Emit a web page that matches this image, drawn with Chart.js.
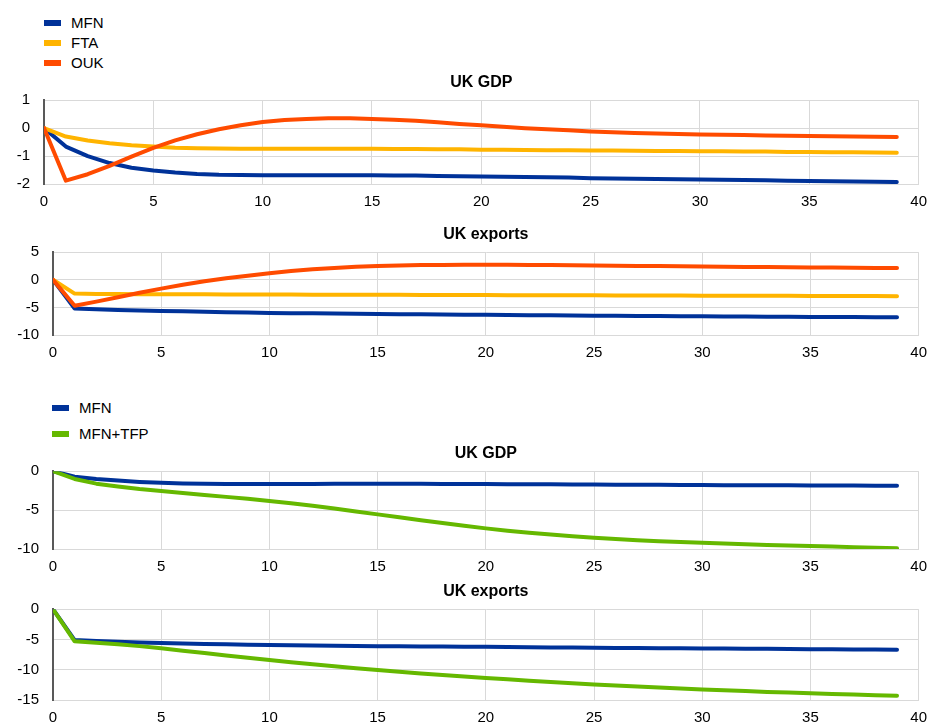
<!DOCTYPE html>
<html>
<head>
<meta charset="utf-8">
<script src="https://cdn.jsdelivr.net/npm/chart.js@4"></script>
<style>
  body { margin: 0; background: #fff; width: 936px; height: 724px; position: relative; overflow: hidden;
         font-family: "Liberation Sans", Arial, sans-serif; }
  canvas { position: absolute; left: 0; }
  .legend-item { position: absolute; white-space: nowrap; font-size: 15px; color: #000; }
  .legend-box { position: absolute; width: 17px; height: 6px; }
  .legend-label { position: absolute; line-height: 18px; }
</style>
</head>
<body>
<div id="legendTop"></div>
<canvas id="gdpTop" width="936" height="135" style="top:73px"></canvas>
<canvas id="expTop" width="936" height="134" style="top:225px"></canvas>
<div id="legendBottom"></div>
<canvas id="gdpBottom" width="936" height="129" style="top:444px"></canvas>
<canvas id="expBottom" width="936" height="142" style="top:582px"></canvas>
<script>
// quarters after the shock
const periods = [0, 1, 2, 3, 4, 5, 6, 7, 8, 9, 10, 11, 12, 13, 14, 15, 16, 17, 18, 19,
  20, 21, 22, 23, 24, 25, 26, 27, 28, 29, 30, 31, 32, 33, 34, 35, 36, 37, 38, 39];
const xTicks = [0, 5, 10, 15, 20, 25, 30, 35, 40];

// upper block: UK GDP
const gdpMfn = [0, -0.66, -1.0, -1.25, -1.42, -1.52, -1.59, -1.64, -1.67, -1.68,
  -1.69, -1.69, -1.69, -1.69, -1.69, -1.69, -1.7, -1.7, -1.71, -1.72,
  -1.73, -1.74, -1.75, -1.76, -1.77, -1.79, -1.8, -1.81, -1.82, -1.83,
  -1.84, -1.85, -1.86, -1.87, -1.88, -1.89, -1.9, -1.91, -1.92, -1.93];
const gdpFta = [0, -0.3, -0.44, -0.54, -0.61, -0.66, -0.7, -0.72, -0.73, -0.74,
  -0.74, -0.74, -0.74, -0.74, -0.74, -0.74, -0.75, -0.75, -0.76, -0.76,
  -0.77, -0.77, -0.78, -0.79, -0.79, -0.8, -0.8, -0.81, -0.82, -0.82,
  -0.83, -0.83, -0.84, -0.84, -0.85, -0.85, -0.86, -0.86, -0.87, -0.88];
const gdpOuk = [0, -1.88, -1.65, -1.35, -1.02, -0.71, -0.44, -0.22, -0.04, 0.1,
  0.22, 0.29, 0.33, 0.35, 0.35, 0.33, 0.3, 0.26, 0.21, 0.15,
  0.1, 0.05, 0.0, -0.04, -0.08, -0.12, -0.15, -0.17, -0.19, -0.21,
  -0.23, -0.24, -0.25, -0.26, -0.27, -0.28, -0.29, -0.3, -0.31, -0.32];
const gdpTicks = [-2, -1, 0, 1];

// upper block: UK exports
const expMfn = [0, -5.2, -5.35, -5.45, -5.55, -5.65, -5.72, -5.8, -5.87, -5.93,
  -6.0, -6.04, -6.08, -6.12, -6.16, -6.2, -6.23, -6.26, -6.29, -6.32,
  -6.35, -6.38, -6.41, -6.44, -6.47, -6.5, -6.53, -6.55, -6.58, -6.6,
  -6.62, -6.64, -6.66, -6.68, -6.7, -6.72, -6.74, -6.76, -6.78, -6.8];
const expFta = [0, -2.5, -2.55, -2.58, -2.6, -2.62, -2.63, -2.64, -2.65, -2.66,
  -2.67, -2.68, -2.69, -2.7, -2.71, -2.72, -2.73, -2.74, -2.75, -2.76,
  -2.77, -2.78, -2.79, -2.8, -2.81, -2.82, -2.83, -2.84, -2.85, -2.86,
  -2.87, -2.88, -2.89, -2.9, -2.91, -2.92, -2.93, -2.94, -2.95, -2.96];
const expOuk = [0, -4.7, -3.95, -3.15, -2.35, -1.6, -0.9, -0.28, 0.27, 0.75,
  1.2, 1.58, 1.9, 2.15, 2.35, 2.5, 2.6, 2.66, 2.7, 2.72,
  2.72, 2.71, 2.69, 2.66, 2.63, 2.6, 2.56, 2.52, 2.48, 2.44,
  2.4, 2.37, 2.34, 2.31, 2.28, 2.25, 2.22, 2.19, 2.16, 2.13];
const expTicks = [-10, -5, 0, 5];

// lower block: UK GDP
const gdp2Mfn = [0, -0.7, -1.0, -1.2, -1.38, -1.5, -1.57, -1.62, -1.65, -1.66,
  -1.66, -1.65, -1.63, -1.61, -1.6, -1.6, -1.61, -1.62, -1.63, -1.64,
  -1.66, -1.67, -1.68, -1.69, -1.7, -1.72, -1.73, -1.74, -1.75, -1.76,
  -1.78, -1.79, -1.8, -1.81, -1.82, -1.83, -1.84, -1.85, -1.86, -1.88];
const gdp2Tfp = [0, -1.0, -1.6, -1.98, -2.3, -2.55, -2.8, -3.05, -3.3, -3.55,
  -3.82, -4.12, -4.45, -4.8, -5.17, -5.55, -5.93, -6.3, -6.67, -7.02,
  -7.35, -7.65, -7.91, -8.15, -8.36, -8.55, -8.72, -8.87, -9.0, -9.11,
  -9.21, -9.3, -9.39, -9.47, -9.55, -9.62, -9.69, -9.76, -9.83, -9.9];
const gdp2Ticks = [-10, -5, 0];

// lower block: UK exports
const exp2Mfn = [0, -5.1, -5.25, -5.38, -5.5, -5.6, -5.68, -5.75, -5.81, -5.87,
  -5.92, -5.96, -6.0, -6.04, -6.08, -6.12, -6.14, -6.16, -6.18, -6.2,
  -6.22, -6.25, -6.28, -6.31, -6.34, -6.37, -6.39, -6.42, -6.44, -6.46,
  -6.48, -6.5, -6.53, -6.55, -6.57, -6.6, -6.62, -6.65, -6.67, -6.7];
const exp2Tfp = [0, -5.3, -5.55, -5.8, -6.1, -6.45, -6.85, -7.25, -7.65, -8.02,
  -8.4, -8.75, -9.1, -9.42, -9.75, -10.05, -10.35, -10.62, -10.88, -11.12,
  -11.35, -11.58, -11.8, -12.02, -12.22, -12.42, -12.6, -12.78, -12.95, -13.1,
  -13.25, -13.4, -13.53, -13.66, -13.78, -13.9, -14.0, -14.1, -14.2, -14.3];
const exp2Ticks = [-15, -10, -5, 0];

const colors = { 'MFN': '#003299', 'FTA': '#ffb400', 'OUK': '#ff4b00', 'MFN+TFP': '#65b800' };

Chart.defaults.font.family = '"Liberation Sans", Arial, sans-serif';
Chart.defaults.color = '#000';

function series(label, values, order) {
  return {
    label: label,
    data: values.map((v, i) => ({ x: periods[i], y: v })),
    borderColor: colors[label],
    backgroundColor: colors[label],
    borderWidth: 4,
    pointRadius: 0,
    tension: 0,
    borderCapStyle: 'round',
    borderJoinStyle: 'round',
    order: order
  };
}

function makeChart(id, title, datasets, yTicks, axisWidth) {
  return new Chart(document.getElementById(id), {
    type: 'line',
    data: { datasets: datasets },
    options: {
      responsive: false,
      animation: false,
      layout: { padding: { left: 0, right: 10, top: 0, bottom: 0 } },
      plugins: {
        legend: { display: false },
        tooltip: { enabled: false },
        title: {
          display: true,
          text: title,
          fullSize: false, // centre over the plot area, not the canvas
          font: { size: 16, weight: 'bold' },
          padding: { top: 0, bottom: 8 }
        }
      },
      scales: {
        x: {
          type: 'linear',
          min: xTicks[0],
          max: xTicks[xTicks.length - 1],
          afterBuildTicks: s => { s.ticks = xTicks.map(v => ({ value: v })); },
          afterFit: s => { s.height = 24; },
          grid: { color: '#d9d9d9', drawTicks: false },
          border: { color: '#d9d9d9' },
          ticks: { font: { size: 15 }, padding: 9, maxRotation: 0, callback: v => String(v) }
        },
        y: {
          min: yTicks[0],
          max: yTicks[yTicks.length - 1],
          afterBuildTicks: s => { s.ticks = yTicks.map(v => ({ value: v })); },
          afterFit: s => { s.width = axisWidth; },
          grid: { color: '#d9d9d9', drawTicks: false },
          border: { color: '#595959', width: 2 },
          ticks: { font: { size: 15 }, padding: 14, callback: v => String(v) }
        }
      }
    }
  });
}

function renderLegend(id, datasets, left, firstCenter, step) {
  const holder = document.getElementById(id);
  datasets.forEach((ds, i) => {
    const c = firstCenter + i * step;
    const item = document.createElement('div');
    item.className = 'legend-item';
    item.style.left = left + 'px';
    item.style.top = c + 'px';
    const box = document.createElement('span');
    box.className = 'legend-box';
    box.style.background = ds.borderColor;
    box.style.left = '0px';
    box.style.top = '-3px';
    const label = document.createElement('span');
    label.className = 'legend-label';
    label.textContent = ds.label;
    label.style.left = '27px';
    label.style.top = '-9px';
    item.appendChild(box);
    item.appendChild(label);
    holder.appendChild(item);
  });
}

const topGdp = makeChart('gdpTop', 'UK GDP',
  [series('MFN', gdpMfn, 3), series('FTA', gdpFta, 2), series('OUK', gdpOuk, 1)], gdpTicks, 44);
makeChart('expTop', 'UK exports',
  [series('MFN', expMfn, 3), series('FTA', expFta, 2), series('OUK', expOuk, 1)], expTicks, 53);
const bottomGdp = makeChart('gdpBottom', 'UK GDP',
  [series('MFN', gdp2Mfn, 2), series('MFN+TFP', gdp2Tfp, 1)], gdp2Ticks, 53);
makeChart('expBottom', 'UK exports',
  [series('MFN', exp2Mfn, 2), series('MFN+TFP', exp2Tfp, 1)], exp2Ticks, 53);

renderLegend('legendTop', topGdp.data.datasets, 44, 23, 20);
renderLegend('legendBottom', bottomGdp.data.datasets, 52, 408, 26);
</script>
</body>
</html>
